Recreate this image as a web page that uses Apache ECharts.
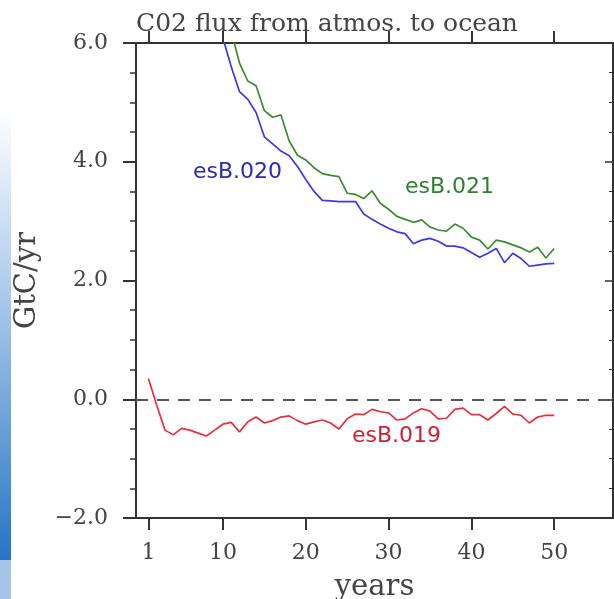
<!DOCTYPE html>
<html>
<head>
<meta charset="utf-8">
<script src="https://cdn.jsdelivr.net/npm/echarts@6/dist/echarts.min.js"></script>
<style>
  html, body { margin: 0; padding: 0; background: #fff; }
  #chart { width: 614px; height: 599px; }
</style>
</head>
<body>
<div id="chart"></div>
<script>
// CO2 flux from atmosphere to ocean, three runs, years 1..50 (GtC/yr).
const years = Array.from({ length: 50 }, (_, i) => i + 1);
const xTicks = [1, 10, 20, 30, 40, 50];

// esB.019 — control, hovers just below zero
const esB019 = [
  0.35, -0.10, -0.52, -0.60, -0.49, -0.52, -0.57, -0.62, -0.52, -0.42,
  -0.39, -0.55, -0.38, -0.30, -0.40, -0.36, -0.30, -0.28, -0.36, -0.42,
  -0.38, -0.35, -0.40, -0.50, -0.33, -0.25, -0.26, -0.17, -0.21, -0.23,
  -0.35, -0.33, -0.23, -0.16, -0.20, -0.33, -0.32, -0.17, -0.15, -0.26,
  -0.26, -0.35, -0.24, -0.12, -0.25, -0.27, -0.40, -0.30, -0.27, -0.27,
];

// esB.020 — early years run off the top of the plot
const esB020 = [
  null, null, null, null, null, null, null, null, 6.6, 6.08,
  5.60, 5.18, 5.05, 4.83, 4.42, 4.30, 4.18, 4.10, 3.92, 3.70,
  3.50, 3.35, 3.34, 3.33, 3.33, 3.33, 3.12, 3.03, 2.95, 2.88,
  2.82, 2.79, 2.62, 2.68, 2.71, 2.66, 2.58, 2.58, 2.55, 2.47,
  2.39, 2.46, 2.54, 2.30, 2.46, 2.37, 2.24, 2.26, 2.28, 2.29,
];

// esB.021
const esB021 = [
  null, null, null, null, null, null, null, null, null, 6.6,
  6.20, 5.66, 5.36, 5.28, 4.86, 4.75, 4.79, 4.35, 4.11, 4.03,
  3.90, 3.80, 3.77, 3.75, 3.47, 3.45, 3.38, 3.51, 3.30, 3.20,
  3.08, 3.03, 2.98, 3.02, 2.90, 2.85, 2.83, 2.95, 2.88, 2.73,
  2.68, 2.53, 2.68, 2.65, 2.60, 2.55, 2.48, 2.56, 2.38, 2.54,
];

const SERIF = '"DejaVu Serif", serif';
const AXIS = '#333';
const pairs = (vals) => years.map((y, i) => [y, vals[i]]);

const chart = echarts.init(document.getElementById('chart'), null, { renderer: 'canvas' });

const xBase = {
  type: 'value',
  min: -0.5,
  max: 57.1,
  splitLine: { show: false },
  axisLine: { show: true, onZero: false, lineStyle: { color: AXIS, width: 2 } },
  axisTick: { show: true, customValues: xTicks, length: 12, lineStyle: { color: AXIS, width: 2 } },
};

chart.setOption({
  backgroundColor: '#fff',
  animation: false,
  // fixed plot frame; v6 would otherwise shrink it to keep names on canvas
  grid: { left: 136, right: 1, top: 43, bottom: 81, containLabel: false, outerBoundsMode: 'none' },
  xAxis: [
    {
      ...xBase,
      position: 'bottom',
      name: 'years',
      nameLocation: 'middle',
      nameGap: 55,
      nameTextStyle: { fontFamily: SERIF, fontSize: 29, color: '#444' },
      axisLabel: {
        customValues: xTicks,
        margin: 24,
        fontFamily: SERIF,
        fontSize: 22,
        color: '#444',
      },
    },
    {
      ...xBase,
      position: 'top',
      axisLabel: { show: false },
    },
  ],
  yAxis: [
    {
      type: 'value',
      min: -2,
      max: 6,
      interval: 2,
      position: 'left',
      name: 'GtC/yr',
      nameLocation: 'middle',
      nameGap: 94,
      nameRotate: 90,
      nameTextStyle: { fontFamily: SERIF, fontSize: 29, color: '#444' },
      splitLine: { show: false },
      axisLine: { show: true, onZero: false, lineStyle: { color: AXIS, width: 2 } },
      axisTick: { show: true, length: 13, lineStyle: { color: AXIS, width: 2 } },
      minorTick: { show: true, splitNumber: 4, length: 6, lineStyle: { color: AXIS, width: 1.5 } },
      axisLabel: {
        margin: 28,
        fontFamily: SERIF,
        fontSize: 22,
        color: '#444',
        formatter: (v) => (v < 0 ? '\u2212' + Math.abs(v).toFixed(1) : v.toFixed(1)),
      },
    },
    {
      type: 'value',
      min: -2,
      max: 6,
      interval: 2,
      position: 'right',
      splitLine: { show: false },
      axisLine: { show: true, onZero: false, lineStyle: { color: AXIS, width: 2 } },
      axisTick: { show: true, inside: true, length: 8, lineStyle: { color: AXIS, width: 1.5 } },
      minorTick: { show: true, splitNumber: 4, length: 4, lineStyle: { color: AXIS, width: 1 } },
      axisLabel: { show: false },
    },
  ],
  title: {
    text: 'C02 flux from atmos. to ocean',
    left: 322,
    top: 7,
    textAlign: 'center',
    textStyle: { fontFamily: SERIF, fontSize: 25, fontWeight: 'normal', color: '#444' },
  },
  series: [
    {
      name: 'esB.019',
      type: 'line',
      data: pairs(esB019),
      showSymbol: false,
      lineStyle: { color: '#e8303c', width: 1.7 },
      markLine: {
        silent: true,
        symbol: 'none',
        label: { show: false },
        lineStyle: { color: '#555', width: 2, type: [12, 9] },
        data: [{ yAxis: 0 }],
      },
    },
    {
      name: 'esB.020',
      type: 'line',
      data: pairs(esB020),
      showSymbol: false,
      clip: true,
      lineStyle: { color: '#3a3ae6', width: 1.7 },
    },
    {
      name: 'esB.021',
      type: 'line',
      data: pairs(esB021),
      showSymbol: false,
      clip: true,
      lineStyle: { color: '#3a8c30', width: 1.7 },
    },
  ],
  graphic: [
    // slide backdrop strip on the left edge
    {
      type: 'rect',
      left: 0,
      top: 110,
      shape: { width: 11, height: 450 },
      style: {
        fill: new echarts.graphic.LinearGradient(0, 0, 0, 1, [
          { offset: 0, color: '#ffffff' },
          { offset: 0.5, color: '#98bee4' },
          { offset: 1, color: '#2674c6' },
        ]),
      },
    },
    {
      type: 'rect',
      left: 0,
      top: 560,
      shape: { width: 11, height: 39 },
      style: { fill: '#a6c4e6' },
    },
    {
      type: 'text',
      left: 193,
      top: 161,
      style: { text: 'esB.020', fill: '#2a2ab4', font: '22px "DejaVu Sans", sans-serif' },
    },
    {
      type: 'text',
      left: 405,
      top: 176,
      style: { text: 'esB.021', fill: '#2f7f2f', font: '22px "DejaVu Sans", sans-serif' },
    },
    {
      type: 'text',
      left: 352,
      top: 425,
      style: { text: 'esB.019', fill: '#cc2233', font: '22px "DejaVu Sans", sans-serif' },
    },
  ],
});
</script>
</body>
</html>
